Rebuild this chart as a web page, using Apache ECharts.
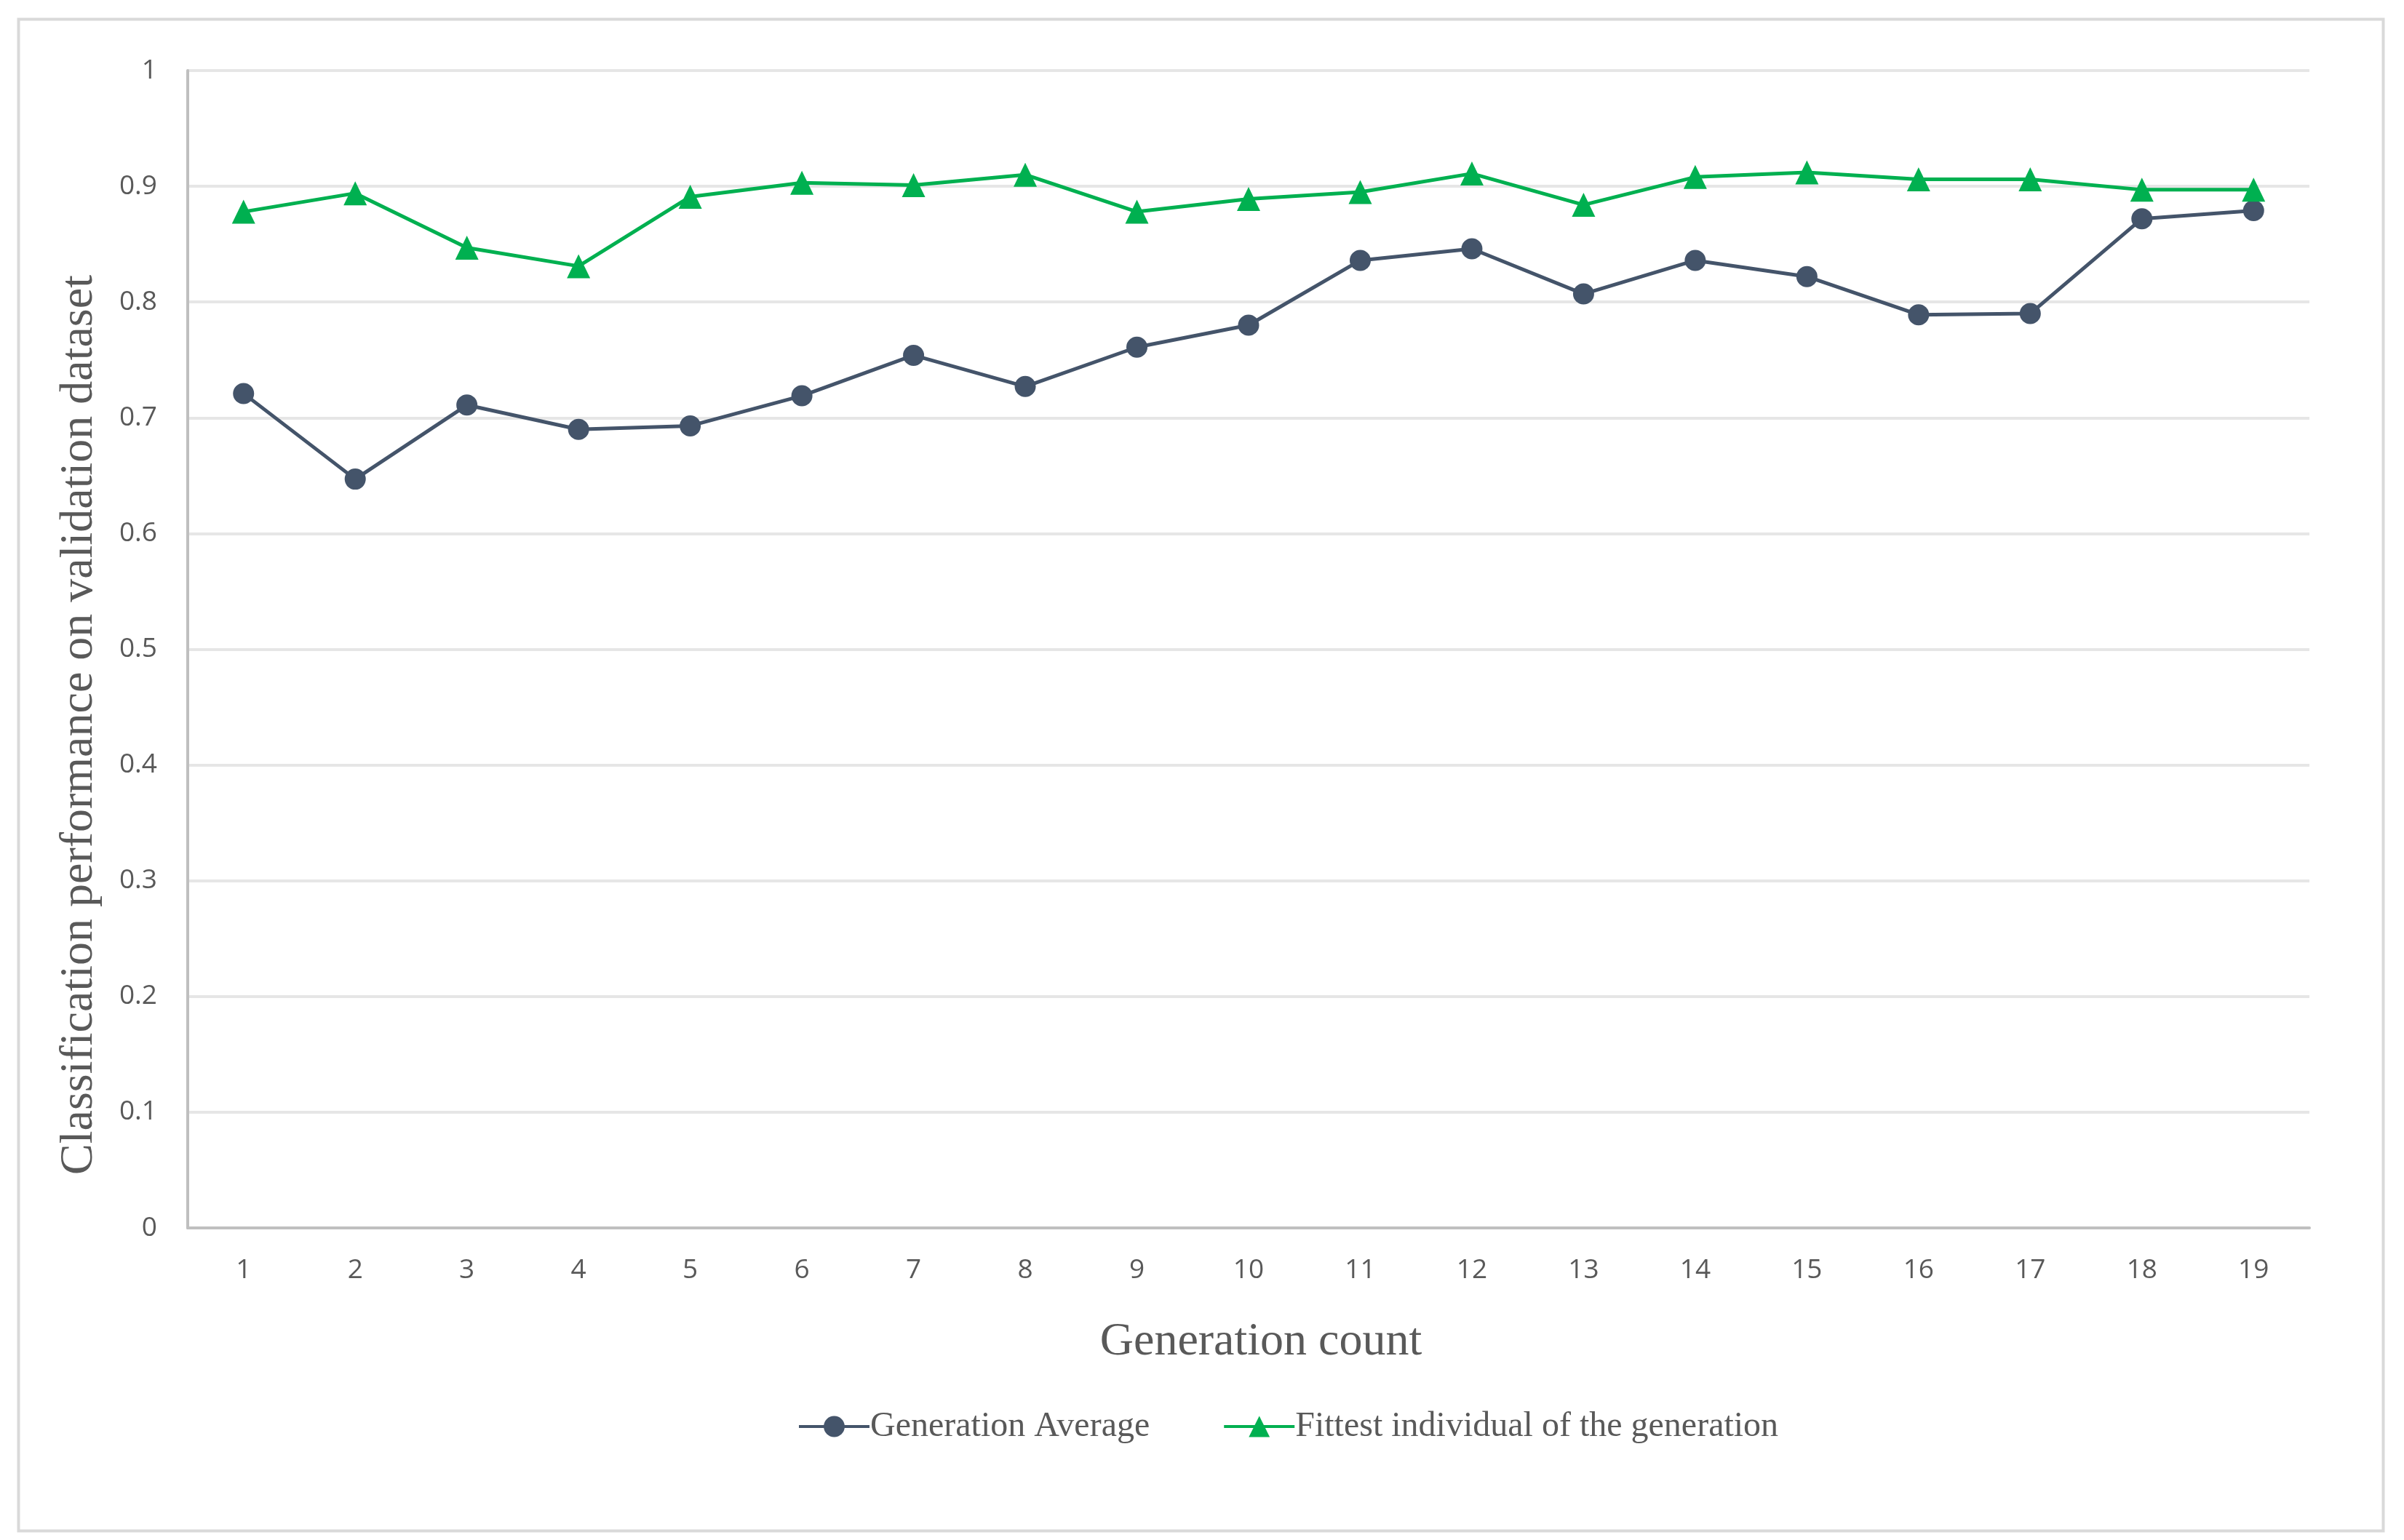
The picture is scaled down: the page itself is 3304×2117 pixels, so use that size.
<!DOCTYPE html>
<html>
<head>
<meta charset="utf-8">
<script src="https://cdn.jsdelivr.net/npm/echarts@6/dist/echarts.min.js"></script>
<style>
html,body{margin:0;padding:0;background:#fff;}
#chart{width:3304px;height:2117px;}
</style>
</head>
<body>
<div id="chart"></div>
<script>
const categories = ['1','2','3','4','5','6','7','8','9','10','11','12','13','14','15','16','17','18','19'];
const generationAverage = [0.721,0.647,0.711,0.690,0.693,0.719,0.754,0.727,0.761,0.780,0.836,0.846,0.807,0.836,0.822,0.789,0.790,0.872,0.879];
const fittestIndividual = [0.878,0.894,0.847,0.831,0.891,0.903,0.901,0.910,0.878,0.889,0.895,0.911,0.884,0.908,0.912,0.906,0.906,0.897,0.897];
const seriesNames = ['Generation Average','Fittest individual of the generation'];
const xTitle = 'Generation count';
const yTitle = 'Classification performance on validation dataset';

const chart = echarts.init(document.getElementById('chart'), null, {renderer:'canvas'});
const serif = '"Liberation Serif", "DejaVu Serif", serif';
const sans = '"Open Sans", "Noto Sans", sans-serif';
chart.setOption({
  animation:false,
  backgroundColor:'#ffffff',
  graphic:[{
    type:'rect', left:23, top:24, z:-1,
    shape:{width:3250, height:2078},
    style:{fill:'none', stroke:'#d9d9d9', lineWidth:4}
  }],
  grid:{left:258, top:97, right:130, bottom:429, containLabel:false},
  xAxis:{
    type:'category', data:categories, boundaryGap:true,
    name:xTitle, nameLocation:'middle', nameGap:125,
    nameTextStyle:{fontFamily:serif, fontSize:64, color:'#595959', padding:[0,0,0,34]},
    axisLine:{show:true, lineStyle:{color:'#bfbfbf', width:4}},
    axisTick:{show:false},
    axisLabel:{fontFamily:sans, fontSize:37, color:'#595959', margin:40}
  },
  yAxis:{
    type:'value', min:0, max:1, interval:0.1,
    name:yTitle, nameLocation:'middle', nameGap:117, nameRotate:90,
    nameTextStyle:{fontFamily:serif, fontSize:64, color:'#595959', padding:[0,208,0,0]},
    axisLine:{show:true, lineStyle:{color:'#bfbfbf', width:4}},
    axisTick:{show:false},
    axisLabel:{fontFamily:sans, fontSize:37, color:'#595959', margin:42},
    splitLine:{show:true, lineStyle:{color:'#e6e6e6', width:4}}
  },
  legend:{
    left:1091, top:1932, itemGap:100, itemWidth:97, itemHeight:36,
    lineStyle:{width:4},
    textStyle:{fontFamily:serif, fontSize:48, color:'#595959', padding:[0,0,0,-4]},
    data:seriesNames
  },
  series:[
    {
      name:seriesNames[0], type:'line', data:generationAverage,
      symbol:'circle', symbolSize:29,
      lineStyle:{color:'#44546a', width:5},
      itemStyle:{color:'#44546a'}
    },
    {
      name:seriesNames[1], type:'line', data:fittestIndividual,
      symbol:'triangle', symbolSize:[32,33],
      lineStyle:{color:'#00b050', width:5},
      itemStyle:{color:'#00b050'}
    }
  ]
});
</script>
</body>
</html>
